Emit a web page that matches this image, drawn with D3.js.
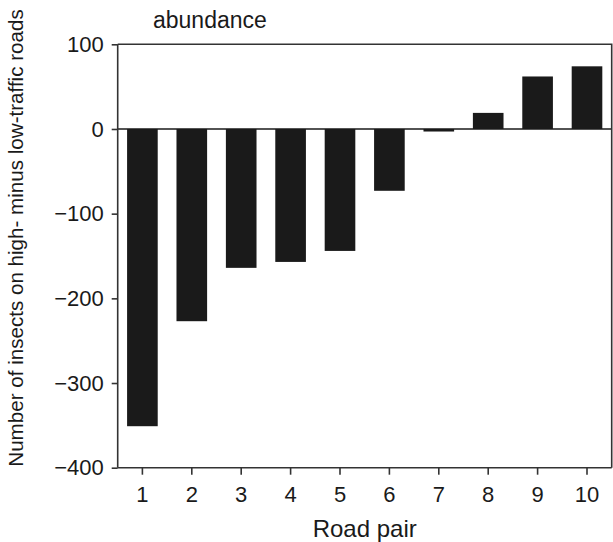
<!DOCTYPE html>
<html><head><meta charset="utf-8">
<script src="https://cdn.jsdelivr.net/npm/d3@7"></script>
<style>body{margin:0;background:#fff}svg{display:block}text{font-family:"Liberation Sans",Arial,sans-serif;fill:#1a1a1a}</style>
</head><body>
<script>
const roadPairs = [1,2,3,4,5,6,7,8,9,10];
const differences = [-351,-227,-164,-157,-144,-73,-3,19,62,74];
const yTicks = [100,0,-100,-200,-300,-400];
const panelTitle = "abundance";
const xTitle = "Road pair";
const yTitle = "Number of insects on high- minus low-traffic roads";

const W=613,H=542;
const L=117.7,R=611.7,T=44.3,B=467.7;
const svg=d3.select("body").append("svg").attr("width",W).attr("height",H);
const x=d3.scaleBand().domain(roadPairs).range([L,R]).paddingInner(0.38).paddingOuter(0.19);
const y=d3.scaleLinear().domain([-400,100]).range([B,T]);
const col="#1a1a1a";

svg.append("g").selectAll("rect").data(roadPairs).join("rect")
 .attr("x",d=>x(d)).attr("width",x.bandwidth())
 .attr("y",(d,i)=>y(Math.max(0,differences[i])))
 .attr("height",(d,i)=>Math.abs(y(differences[i])-y(0)))
 .attr("fill",col);

svg.append("line").attr("x1",L).attr("x2",R).attr("y1",y(0)).attr("y2",y(0)).attr("stroke",col).attr("stroke-width",1.5);
svg.append("path").attr("d",`M${L},${T}H${R}V${B}`).attr("fill","none").attr("stroke","#333").attr("stroke-width",1.6);

const yAxis=svg.append("g").attr("transform",`translate(${L},0)`)
 .call(d3.axisLeft(y).tickValues(yTicks).tickSize(6).tickPadding(8).tickFormat(d=>d<0?"\u2212"+Math.abs(d):d));
const xAxis=svg.append("g").attr("transform",`translate(0,${B})`)
 .call(d3.axisBottom(x).tickSize(7).tickPadding(12).tickSizeOuter(0));
[yAxis,xAxis].forEach(g=>{
 g.selectAll("path,line").attr("stroke","#333").attr("stroke-width",1.6);
 g.selectAll("text").attr("font-size",22).style("font-family","Liberation Sans, Arial, sans-serif").attr("fill","#1a1a1a");
});
yAxis.select(".domain").attr("d",`M0,${T}V${B}`);
xAxis.select(".domain").attr("d",`M${L},0H${R}`);

svg.append("text").attr("x",153).attr("y",28).attr("font-size",23).text(panelTitle);
svg.append("text").attr("x",(L+R)/2).attr("y",537).attr("text-anchor","middle").attr("font-size",24).text(xTitle);
svg.append("text").attr("transform",`translate(23,238) rotate(-90)`).attr("text-anchor","middle").attr("font-size",20.6).text(yTitle);
</script>
</body></html>
